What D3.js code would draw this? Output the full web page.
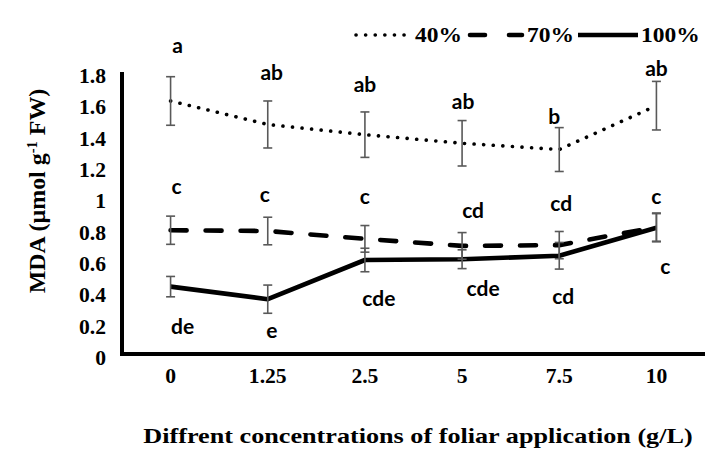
<!DOCTYPE html>
<html><head><meta charset="utf-8">
<script src="https://cdn.jsdelivr.net/npm/d3@7"></script>
<style>body{margin:0;background:#fff}</style>
</head><body>
<svg id="c" width="717" height="454"></svg>
<script>
const categories = ["0","1.25","2.5","5","7.5","10"];
const seriesNames = ["40%","70%","100%"];
const v40  = [1.615,1.465,1.400,1.345,1.305,1.585];
const e40  = [0.155,0.150,0.145,0.145,0.140,0.155];
const v70  = [0.790,0.785,0.735,0.690,0.695,0.810];
const e70  = [0.090,0.088,0.085,0.085,0.087,0.090];
const v100 = [0.430,0.350,0.600,0.605,0.627,0.806];
const e100 = [0.065,0.090,0.075,0.060,0.085,0.090];
const l40  = ["a","ab","ab","ab","b","ab"];
const l70  = ["c","c","c","cd","cd","c"];
const l100 = ["de","e","cde","cde","cd","c"];
const yTicks = [0,0.2,0.4,0.6,0.8,1,1.2,1.4,1.6,1.8];

const svg = d3.select("#c");
const x = d3.scaleBand().domain(categories).range([122,705]);
const y = d3.scaleLinear().domain([0,1.8]).range([354,72]);
const cx = d => x(d)+x.bandwidth()/2;

const serif = "'Liberation Serif','Times New Roman',serif";
const sans = "Lato,'Open Sans',sans-serif";

function stext(xx,yy,size,sx,anchor,rot){
  return svg.append("text")
    .attr("transform",`translate(${xx},${yy})${rot?` rotate(${rot})`:""} scale(${sx},1)`)
    .attr("text-anchor",anchor).attr("font-family",serif).attr("font-weight","bold")
    .attr("font-size",size).attr("fill","#000");
}

// axes
const tsx = 1.08;
const yAx = svg.append("g").attr("transform","translate(122,0)")
  .call(d3.axisLeft(y).tickValues(yTicks).tickSize(0).tickPadding(16).tickFormat(d=>d3.format("")(d)));
yAx.select(".domain").remove();
yAx.selectAll("text").attr("font-family",serif).attr("font-weight","bold").attr("font-size",20).attr("fill","#000")
  .attr("x",-16/tsx).attr("y",4).attr("transform",`scale(${tsx},1)`);
const xAx = svg.append("g").attr("transform","translate(0,354)")
  .call(d3.axisBottom(x).tickSize(0).tickPadding(15));
xAx.select(".domain").remove();
xAx.selectAll("text").attr("font-family",serif).attr("font-weight","bold").attr("font-size",20).attr("fill","#000")
  .attr("transform",`scale(${tsx},1)`);

svg.append("line").attr("x1",122).attr("x2",122).attr("y1",y(1.8)).attr("y2",y(0)+2).attr("stroke","#000").attr("stroke-width",4);
svg.append("line").attr("x1",120).attr("x2",705).attr("y1",y(0)).attr("y2",y(0)).attr("stroke","#000").attr("stroke-width",4);

// titles
stext(45,191,23,1.04,"middle",-90)
  .html('MDA (µmol g<tspan baseline-shift="super" font-size="14">-1</tspan> FW)');
stext(418,443,22,1.19,"middle").text("Diffrent concentrations of foliar application (g/L)");

const series = [
  {vals:v40, errs:e40, dash:"0.1,9.5", cap:"round", w:3.6},
  {vals:v70, errs:e70, dash:"16,19", cap:"round", w:4.6},
  {vals:v100,errs:e100,dash:null, cap:"butt", w:4.6}
];
const line = d3.line().x((d,i)=>cx(categories[i])).y(d=>y(d));

series.forEach(s=>{
  const p = svg.append("path").datum(s.vals).attr("d",line).attr("fill","none")
    .attr("stroke","#000").attr("stroke-width",s.w).attr("stroke-linecap",s.cap).attr("stroke-linejoin","round");
  if (s.dash) p.attr("stroke-dasharray",s.dash);
});
series.forEach(s=>{
  const g = svg.append("g");
  s.vals.forEach((v,i)=>{
    const xx = cx(categories[i]);
    const e = s.errs[i];
    g.append("line").attr("x1",xx).attr("x2",xx).attr("y1",y(v+e)).attr("y2",y(v-e)).attr("stroke","#595959").attr("stroke-width",1.6);
    [v+e,v-e].forEach(t=>g.append("line").attr("x1",xx-4.5).attr("x2",xx+4.5).attr("y1",y(t)).attr("y2",y(t)).attr("stroke","#595959").attr("stroke-width",1.6));
  });
});
// letters
const letterPos = [
  {labs:l40, off:[[7,-30],[4,-27],[0,-26],[1,-18],[-5,-10],[0,-11]]},
  {labs:l70, off:[[6,-28],[-3,-21],[0,-28],[11,-21],[2,-26],[0,-15]]},
  {labs:l100,off:[[12,41],[4,33],[14,40],[21,31],[4,42],[9,40]]}
];
const baseVals = [v40.map((v,i)=>v+e40[i]), v70.map((v,i)=>v+e70[i]), v100];
letterPos.forEach((lp,k)=>{
  lp.labs.forEach((t,i)=>{
    svg.append("text").attr("x",cx(categories[i])+lp.off[i][0]).attr("y",y(baseVals[k][i])+lp.off[i][1]+6)
      .attr("text-anchor","middle").attr("font-family",sans).attr("font-weight","bold").attr("font-size",21)
      .attr("fill","#000").text(t);
  });
});

// legend
const legItems = [
  {x1:356,x2:410,tx:415,name:seriesNames[0],s:series[0],dash:"0.1,9.5"},
  {x1:470,x2:522,tx:527,name:seriesNames[1],s:series[1],dash:"15,24"},
  {x1:578,x2:638,tx:641,name:seriesNames[2],s:series[2],dash:null}
];
legItems.forEach(it=>{
  const l = svg.append("line").attr("x1",it.x1).attr("x2",it.x2).attr("y1",35).attr("y2",35)
    .attr("stroke","#000").attr("stroke-width",it.s.w).attr("stroke-linecap",it.s.cap);
  if (it.dash) l.attr("stroke-dasharray", it.dash);
  stext(it.tx,42,21,1.12,"start").text(it.name);
});
</script>
</body></html>
